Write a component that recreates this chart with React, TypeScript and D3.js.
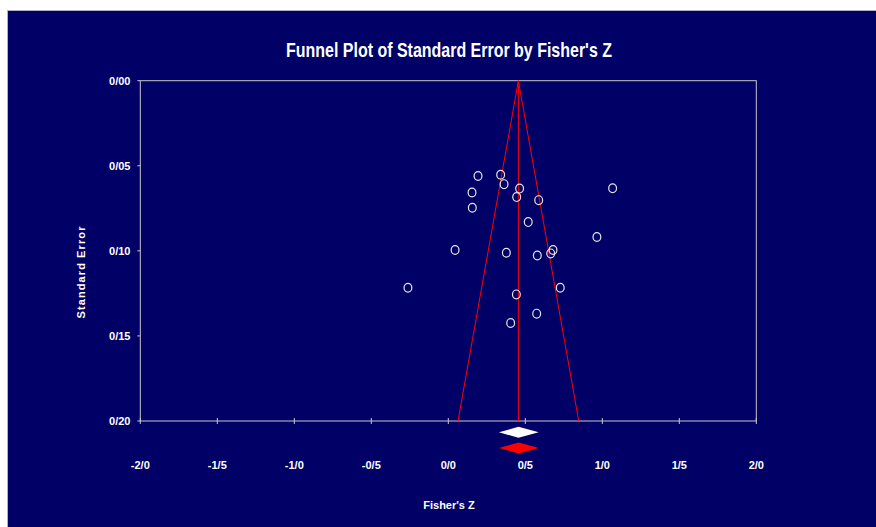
import React from 'react';
import * as d3 from 'd3';

// study points (Fisher's Z, standard error)
const fisherZ = [0.193, 0.34, 0.362, 0.463, 0.444, 0.587, 0.154, 0.156, 1.067, 0.519, 0.965, 0.044, 0.377, 0.578, 0.68, 0.665, -0.262, 0.442, 0.727, 0.574, 0.405];
const stdErr = [0.056, 0.0553, 0.0608, 0.0634, 0.0684, 0.0702, 0.0657, 0.0747, 0.0632, 0.0831, 0.0919, 0.0995, 0.1011, 0.1027, 0.0995, 0.1015, 0.1217, 0.1256, 0.1217, 0.1369, 0.1424];

// combined estimate: observed (white) and adjusted (red)
const diamondNames = ['observed', 'adjusted'];
const diamondPoint = [0.456, 0.456];
const diamondLower = [0.329, 0.329];
const diamondUpper = [0.587, 0.587];

const xTicks = [-2, -1.5, -1, -0.5, 0, 0.5, 1, 1.5, 2];
const yTicks = [0, 0.05, 0.1, 0.15, 0.2];
const funnelCenter = 0.455;
const maxSE = 0.2;

const W = 876;
const H = 527;
const padding = { top: 80.7, right: 119.7, bottom: 106, left: 140.3 };

const fmt = (v: number, digits: number) => v.toFixed(digits).replace('.', '/');

const App = () => {
  const x = d3.scaleLinear().domain([-2, 2]).range([padding.left, W - padding.right]);
  const y = d3.scaleLinear().domain([0, maxSE]).range([padding.top, H - padding.bottom]);

  const bottom = y(maxSE);
  const navy = '#000066';
  const axisColor = '#c8c8c8';
  const font = '"Liberation Sans", Arial, sans-serif';

  const funnel = d3.line<[number, number]>()
    .x(d => x(d[0]))
    .y(d => y(d[1]));

  const diamondY = [432.3, 448];
  const diamondFill = ['#ffffff', '#ff0000'];

  return (
    <svg
      viewBox={`0 0 ${W} ${H}`}
      style={{ width: W, height: H, position: 'absolute', left: 0, top: 0, background: '#fff' }}
    >
      <rect x={7} y={10} width={W - 7} height={H - 10} fill={navy} />
      <line x1={7} x2={W} y1={10.5} y2={10.5} stroke="#b0b0c8" />
      <line x1={7.5} x2={7.5} y1={10} y2={H} stroke="#b0b0c8" />

      <text
        x={449}
        y={56.5}
        textAnchor="middle"
        fill="#fff"
        fontFamily={font}
        fontWeight="bold"
        fontSize={21}
        textLength={326}
        lengthAdjust="spacingAndGlyphs"
      >
        Funnel Plot of Standard Error by Fisher's Z
      </text>

      {/* plot frame */}
      <rect
        x={x(-2)}
        y={y(0)}
        width={x(2) - x(-2)}
        height={bottom - y(0)}
        fill="none"
        stroke={axisColor}
        strokeWidth={1}
      />

      {/* y ticks */}
      <g fontFamily={font} fontWeight="bold" fontSize={11} fill="#fff">
        {yTicks.map(t => (
          <g key={t}>
            <line x1={x(-2) - 3} x2={x(-2)} y1={y(t)} y2={y(t)} stroke={axisColor} />
            <text x={130.5} y={y(t)} dy="0.35em" textAnchor="end">{fmt(t, 2)}</text>
          </g>
        ))}
      </g>

      {/* x ticks */}
      <g fontFamily={font} fontWeight="bold" fontSize={11} fill="#fff">
        {xTicks.map(t => (
          <g key={t}>
            <line x1={x(t)} x2={x(t)} y1={bottom - 3} y2={bottom + 3} stroke={axisColor} />
            <text x={x(t)} y={469} textAnchor="middle">{fmt(t, 1)}</text>
          </g>
        ))}
      </g>

      {/* funnel */}
      <g stroke="#ff0000" strokeWidth={1} fill="none">
        <line x1={x(funnelCenter)} x2={x(funnelCenter)} y1={y(0)} y2={bottom} />
        <path d={funnel([[funnelCenter - 1.96 * maxSE, maxSE], [funnelCenter, 0], [funnelCenter + 1.96 * maxSE, maxSE]]) || ''} />
      </g>

      {/* studies */}
      <g fill="none" stroke="#e6e6e6" strokeWidth={1.2}>
        {fisherZ.map((z, i) => (
          <ellipse key={i} cx={x(z)} cy={y(stdErr[i])} rx={3.9} ry={4.4} />
        ))}
      </g>

      {/* combined estimates */}
      {diamondNames.map((name, i) => {
        const cy = diamondY[i];
        const h = 5.5;
        const pts = [
          [x(diamondLower[i]), cy],
          [x(diamondPoint[i]), cy - h],
          [x(diamondUpper[i]), cy],
          [x(diamondPoint[i]), cy + h],
        ];
        return <polygon key={name} points={pts.map(p => p.join(',')).join(' ')} fill={diamondFill[i]} />;
      })}

      <text
        x={449}
        y={509}
        textAnchor="middle"
        fill="#fff"
        fontFamily={font}
        fontWeight="bold"
        fontSize={11}
      >
        Fisher's Z
      </text>
      <text
        transform={`translate(85,272) rotate(-90)`}
        textAnchor="middle"
        fill="#fff"
        fontFamily={font}
        fontWeight="bold"
        fontSize={11}
        letterSpacing={1.1}
      >
        Standard Error
      </text>
    </svg>
  );
};

export default App;
